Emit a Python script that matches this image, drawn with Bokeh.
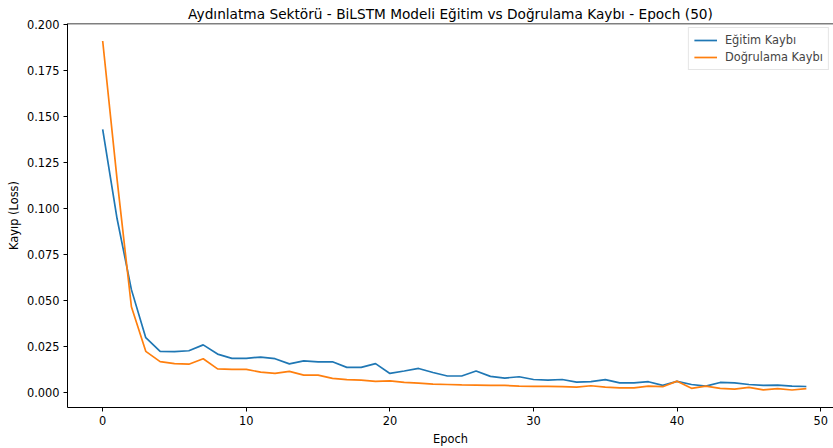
from bokeh.plotting import figure
from bokeh.models import FixedTicker, PrintfTickFormatter, Range1d, Legend, LegendItem, Span
from bokeh.embed import file_html
from bokeh.resources import INLINE

epochs = list(range(50))
train_loss = [0.143, 0.0946, 0.056, 0.0299, 0.0225, 0.0223, 0.0228, 0.026, 0.021, 0.0187,
              0.0187, 0.0194, 0.0185, 0.0157, 0.0173, 0.0168, 0.0168, 0.0138, 0.0138, 0.0158,
              0.0105, 0.0118, 0.0132, 0.011, 0.0091, 0.0091, 0.0118, 0.0089, 0.008, 0.0087,
              0.0072, 0.0069, 0.0072, 0.0058, 0.006, 0.0071, 0.0054, 0.0054, 0.006, 0.004,
              0.0062, 0.0045, 0.0036, 0.0056, 0.0054, 0.0045, 0.004, 0.0041, 0.0036, 0.0034]
val_loss = [0.191, 0.116, 0.0467, 0.0225, 0.0169, 0.0158, 0.0155, 0.0185, 0.013, 0.0127,
            0.0127, 0.0112, 0.0105, 0.0116, 0.0096, 0.0096, 0.0078, 0.0071, 0.0069, 0.0062,
            0.0065, 0.0056, 0.0052, 0.0047, 0.0045, 0.0043, 0.0042, 0.004, 0.004, 0.0036,
            0.0035, 0.0035, 0.0033, 0.0031, 0.0038, 0.0031, 0.0027, 0.0027, 0.0036, 0.0033,
            0.0063, 0.0024, 0.0036, 0.0024, 0.002, 0.0029, 0.0016, 0.0022, 0.0015, 0.0022]
x_ticks = [0, 10, 20, 30, 40, 50]
y_ticks = [0.0, 0.025, 0.05, 0.075, 0.1, 0.125, 0.15, 0.175, 0.2]

title_text = "Aydınlatma Sektörü - BiLSTM Modeli Eğitim vs Doğrulama Kaybı - Epoch (50)"
FONT = "DejaVu Sans"
Y_TOP = 0.2005

p = figure(width=833, height=448, output_backend="svg", toolbar_location=None,
           x_range=Range1d(-2.45, 50.89), y_range=Range1d(-0.008, Y_TOP),
           min_border_left=67, min_border_right=0, min_border_top=23, min_border_bottom=41)

p.title.text = title_text
p.title.text_font = FONT
p.title.text_font_size = "13.7px"
p.title.text_font_style = "normal"
p.title.align = "center"
p.title.standoff = 4
p.title.offset = 4
p.title.text_color = "#000000"

r1 = p.line(epochs, train_loss, line_color="#1f77b4", line_width=1.7)
r2 = p.line(epochs, val_loss, line_color="#ff7f0e", line_width=1.7)

legend = Legend(items=[LegendItem(label="Eğitim Kaybı", renderers=[r1]),
                       LegendItem(label="Doğrulama Kaybı", renderers=[r2])],
                location="top_right")
legend.margin = 4
legend.padding = 5
legend.spacing = 3
legend.glyph_width = 23
legend.glyph_height = 14
legend.label_standoff = 8
legend.label_text_font = FONT
legend.label_text_font_size = "11.4px"
legend.label_height = 14
legend.border_line_color = "#cccccc"
legend.border_line_width = 1
legend.background_fill_alpha = 0.8
p.add_layout(legend)

p.grid.visible = False
p.outline_line_color = None
p.add_layout(Span(location=Y_TOP, dimension="width", line_color="#000000", line_width=1.5))

for ax in (p.xaxis, p.yaxis):
    ax.axis_line_color = "#000000"
    ax.major_tick_line_color = "#000000"
    ax.major_tick_out = 4
    ax.major_tick_in = 0
    ax.minor_tick_line_color = None
    ax.major_label_text_font = FONT
    ax.major_label_text_font_size = "11.4px"
    ax.major_label_text_color = "#000000"
    ax.axis_label_text_font = FONT
    ax.axis_label_text_font_size = "11.4px"
    ax.axis_label_text_font_style = "normal"
    ax.axis_label_text_color = "#000000"

p.xaxis.ticker = FixedTicker(ticks=x_ticks)
p.yaxis.ticker = FixedTicker(ticks=y_ticks)
p.yaxis.formatter = PrintfTickFormatter(format="%.3f")
p.xaxis.axis_label = "Epoch"
p.yaxis.axis_label = "Kayıp (Loss)"
p.xaxis.major_label_standoff = 4
p.yaxis.major_label_standoff = 4
p.xaxis.axis_label_standoff = 4
p.yaxis.axis_label_standoff = 3

open("out.html", "w").write(file_html(p, INLINE))
